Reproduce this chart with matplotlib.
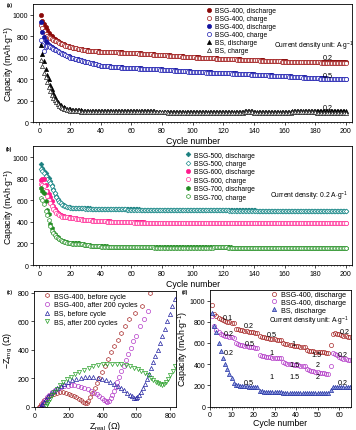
import numpy as np
import matplotlib
matplotlib.use("Agg")
import matplotlib.pyplot as plt
from matplotlib.ticker import MultipleLocator

plt.rcParams['font.family'] = ['Liberation Sans', 'DejaVu Sans']
plt.rcParams['mathtext.fontset'] = 'custom'
plt.rcParams['mathtext.rm'] = 'Liberation Sans'
plt.rcParams['mathtext.it'] = 'Liberation Sans:italic'
plt.rcParams['axes.linewidth'] = 0.6

# ---------------- (a) cycling, BSG-400 vs BS ----------------
a_bsg400_02_dis = [
    1000, 945, 916, 884, 860, 835, 815, 800, 787, 776, 766, 757, 748, 740, 732, 725, 718, 712, 707, 703,
    699, 696, 692, 689, 686, 683, 681, 678, 675, 672, 670, 669, 667, 666, 664, 663, 662, 661, 660, 659,
    659, 658, 657, 657, 656, 655, 655, 654, 653, 652, 652, 651, 651, 650, 649, 649, 648, 648, 647, 647,
    646, 645, 644, 643, 642, 641, 640, 639, 638, 637, 636, 635, 634, 633, 632, 631, 630, 629, 628, 627,
    626, 625, 624, 623, 622, 621, 620, 619, 618, 617, 616, 615, 614, 613, 612, 611, 610, 609, 608, 607,
    606, 605, 605, 604, 603, 602, 602, 601, 600, 599, 599, 598, 597, 597, 596, 595, 594, 594, 593, 592,
    592, 591, 590, 590, 589, 588, 588, 587, 586, 586, 585, 584, 584, 583, 582, 582, 581, 581, 580, 580,
    579, 578, 578, 577, 576, 576, 575, 574, 574, 573, 572, 572, 571, 570, 570, 569, 569, 568, 568, 567,
    567, 566, 566, 565, 565, 564, 564, 563, 563, 562, 562, 562, 561, 561, 561, 560, 560, 560, 560, 559,
    559, 559, 559, 558, 558, 558, 558, 558, 557, 557, 557, 557, 557, 557, 557, 557, 557, 557, 557, 558]
a_bsg400_02_chg = [
    906, 880, 845, 822, 805, 792, 782, 774, 766, 760, 752, 745, 738, 731, 725, 719, 713, 708, 704, 700,
    697, 694, 690, 687, 684, 681, 679, 676, 673, 670, 668, 667, 665, 664, 662, 661, 660, 659, 658, 657,
    657, 656, 655, 655, 654, 653, 653, 652, 651, 650, 650, 649, 649, 648, 647, 647, 646, 646, 645, 645,
    644, 643, 642, 641, 640, 639, 638, 637, 636, 635, 634, 633, 632, 631, 630, 629, 628, 627, 626, 625,
    624, 623, 622, 621, 620, 619, 618, 617, 616, 615, 614, 613, 612, 611, 610, 609, 608, 607, 606, 605,
    604, 603, 603, 602, 601, 600, 600, 599, 598, 597, 597, 596, 595, 595, 594, 593, 592, 592, 591, 590,
    590, 589, 588, 588, 587, 586, 586, 585, 584, 584, 583, 582, 582, 581, 580, 580, 579, 579, 578, 578,
    577, 576, 576, 575, 574, 574, 573, 572, 572, 571, 570, 570, 569, 568, 568, 567, 567, 566, 566, 565,
    565, 564, 564, 563, 563, 562, 562, 561, 561, 560, 560, 560, 559, 559, 559, 558, 558, 558, 558, 557,
    557, 557, 557, 556, 556, 556, 556, 556, 555, 555, 555, 555, 555, 555, 555, 555, 555, 555, 555, 556]
a_bsg400_05_dis = [
    935, 840, 795, 760, 735, 722, 712, 702, 692, 682, 673, 665, 657, 649, 641, 634, 627, 620, 613, 606,
    602, 598, 594, 590, 586, 582, 578, 574, 570, 566, 563, 559, 555, 552, 548, 545, 541, 537, 533, 529,
    527, 525, 524, 523, 522, 521, 519, 518, 517, 516, 515, 514, 512, 511, 510, 510, 509, 508, 507, 507,
    506, 505, 504, 504, 503, 502, 501, 501, 500, 499, 499, 498, 497, 497, 496, 495, 494, 494, 493, 492,
    491, 490, 489, 488, 487, 486, 485, 484, 483, 482, 481, 480, 479, 478, 477, 476, 475, 474, 473, 472,
    471, 471, 470, 469, 469, 468, 468, 467, 466, 466, 465, 465, 464, 464, 463, 463, 462, 462, 461, 461,
    460, 459, 458, 458, 457, 456, 455, 455, 454, 453, 452, 452, 451, 450, 449, 449, 448, 447, 447, 446,
    445, 444, 444, 443, 442, 441, 441, 440, 439, 438, 438, 437, 436, 435, 435, 434, 433, 433, 432, 431,
    430, 429, 428, 427, 426, 425, 424, 423, 422, 421, 420, 419, 418, 417, 416, 415, 414, 413, 412, 412,
    411, 411, 410, 410, 409, 409, 409, 408, 408, 408, 408, 407, 407, 407, 407, 407, 407, 407, 407, 408]
a_bsg400_05_chg = [
    765, 722, 660, 702, 712, 707, 700, 692, 684, 676, 669, 662, 654, 646, 638, 632, 624, 617, 610, 603,
    600, 596, 592, 588, 584, 580, 576, 572, 568, 564, 561, 557, 553, 550, 546, 543, 539, 535, 531, 527,
    525, 523, 522, 521, 520, 519, 517, 516, 515, 514, 513, 512, 510, 509, 508, 508, 507, 506, 505, 505,
    504, 503, 502, 502, 501, 500, 499, 499, 498, 497, 497, 496, 495, 495, 494, 493, 492, 492, 491, 490,
    489, 488, 487, 486, 485, 484, 483, 482, 481, 480, 479, 478, 477, 476, 475, 474, 473, 472, 471, 470,
    469, 469, 468, 467, 467, 466, 466, 465, 464, 464, 463, 463, 462, 462, 461, 461, 460, 460, 459, 459,
    458, 457, 456, 456, 455, 454, 453, 453, 452, 451, 450, 450, 449, 448, 447, 447, 446, 445, 445, 444,
    443, 442, 442, 441, 440, 439, 439, 438, 437, 436, 436, 435, 434, 433, 433, 432, 431, 431, 430, 429,
    428, 427, 426, 425, 424, 423, 422, 421, 420, 419, 418, 417, 416, 415, 414, 413, 412, 411, 410, 410,
    409, 409, 408, 408, 407, 407, 407, 406, 406, 406, 406, 405, 405, 405, 405, 405, 405, 405, 405, 406]
a_bs_dis = [
    720, 640, 570, 500, 440, 400, 352, 310, 272, 238, 212, 190, 172, 158, 148, 140, 134, 129, 125, 122,
    120, 118, 116, 115, 114, 113, 112, 111, 110, 110, 109, 109, 108, 108, 108, 107, 107, 107, 106, 106,
    106, 106, 105, 105, 105, 105, 105, 105, 104, 104, 104, 104, 104, 104, 104, 103, 103, 103, 103, 103,
    103, 103, 103, 103, 102, 102, 102, 102, 102, 102, 102, 102, 102, 102, 102, 101, 101, 101, 101, 101,
    101, 101, 101, 101, 101, 101, 101, 101, 101, 100, 100, 100, 100, 100, 99, 99, 99, 99, 99, 99,
    99, 99, 99, 99, 99, 99, 99, 99, 99, 99, 99, 99, 99, 99, 99, 99, 99, 99, 99, 99,
    99, 99, 99, 99, 99, 99, 99, 99, 99, 99, 99, 99, 101, 102, 102, 102, 102, 102, 102, 101,
    101, 101, 101, 101, 101, 101, 101, 101, 101, 101, 101, 101, 101, 101, 101, 101, 101, 101, 101, 101,
    101, 101, 101, 101, 103, 103, 103, 103, 103, 103, 103, 103, 103, 103, 103, 103, 103, 103, 103, 103,
    103, 103, 103, 102, 102, 102, 102, 102, 102, 102, 102, 102, 102, 102, 102, 102, 102, 102, 102, 102]
a_bs_chg = [
    580, 520, 462, 418, 378, 332, 292, 258, 230, 206, 186, 168, 154, 143, 135, 128, 122, 117, 114, 111,
    109, 107, 105, 104, 103, 102, 101, 100, 100, 99, 99, 98, 98, 98, 97, 97, 97, 97, 96, 96,
    96, 96, 96, 96, 95, 95, 95, 95, 95, 95, 95, 95, 95, 95, 95, 94, 94, 94, 94, 94,
    94, 94, 94, 94, 94, 94, 94, 94, 93, 93, 93, 93, 93, 93, 93, 93, 93, 93, 93, 93,
    93, 93, 93, 92, 92, 92, 92, 92, 92, 92, 92, 92, 92, 92, 91, 91, 91, 91, 91, 91,
    91, 91, 91, 91, 91, 91, 91, 91, 91, 91, 91, 91, 91, 91, 91, 91, 91, 91, 91, 91,
    91, 91, 91, 91, 91, 91, 91, 91, 91, 91, 91, 91, 92, 93, 93, 93, 93, 93, 93, 92,
    92, 92, 92, 92, 92, 92, 92, 92, 92, 92, 92, 92, 92, 92, 92, 92, 92, 92, 92, 92,
    92, 92, 92, 92, 93, 93, 93, 93, 93, 93, 93, 93, 93, 93, 93, 93, 93, 93, 93, 93,
    92, 92, 92, 91, 91, 91, 91, 91, 91, 91, 90, 90, 90, 90, 90, 90, 90, 90, 90, 90]

# ---------------- (b) cycling, BSG-500/600/700 at 0.2 A/g ----------------
b_bsg500_dis = [
    940, 900, 875, 850, 828, 805, 780, 745, 705, 672, 638, 610, 590, 575, 564, 555, 548, 542, 538, 535,
    533, 532, 531, 530, 529, 528, 528, 527, 527, 526, 526, 525, 525, 524, 524, 524, 523, 523, 523, 522,
    522, 522, 521, 521, 521, 520, 520, 520, 519, 519, 519, 519, 518, 518, 518, 518, 517, 517, 517, 517,
    517, 516, 516, 516, 516, 515, 515, 515, 515, 515, 514, 514, 514, 514, 514, 514, 513, 513, 513, 513,
    513, 513, 513, 512, 512, 512, 512, 512, 512, 512, 512, 511, 511, 511, 511, 511, 511, 511, 511, 510,
    510, 510, 510, 510, 510, 510, 509, 509, 509, 509, 509, 509, 509, 509, 508, 508, 508, 508, 508, 508,
    508, 508, 508, 507, 507, 507, 507, 507, 507, 507, 507, 507, 506, 506, 506, 506, 506, 506, 506, 506,
    506, 505, 505, 505, 505, 505, 505, 505, 505, 505, 504, 504, 504, 504, 504, 504, 504, 504, 504, 504,
    503, 503, 503, 503, 503, 503, 503, 503, 503, 503, 503, 502, 502, 502, 502, 502, 502, 502, 502, 502,
    502, 502, 502, 502, 502, 502, 502, 501, 501, 501, 501, 501, 501, 501, 501, 501, 501, 501, 501, 501]
b_bsg500_chg = [
    893, 872, 852, 826, 800, 780, 758, 730, 700, 665, 632, 604, 586, 572, 561, 552, 545, 540, 536, 533,
    531, 530, 529, 528, 527, 526, 526, 525, 525, 524, 524, 523, 523, 522, 522, 522, 521, 521, 521, 520,
    520, 520, 519, 519, 519, 518, 518, 518, 517, 517, 517, 517, 516, 516, 516, 516, 515, 515, 515, 515,
    515, 514, 514, 514, 514, 513, 513, 513, 513, 513, 512, 512, 512, 512, 512, 512, 511, 511, 511, 511,
    511, 511, 511, 510, 510, 510, 510, 510, 510, 510, 510, 509, 509, 509, 509, 509, 509, 509, 509, 508,
    508, 508, 508, 508, 508, 508, 507, 507, 507, 507, 507, 507, 507, 507, 506, 506, 506, 506, 506, 506,
    506, 506, 506, 505, 505, 505, 505, 505, 505, 505, 505, 505, 504, 504, 504, 504, 504, 504, 504, 504,
    504, 503, 503, 503, 503, 503, 503, 503, 503, 503, 502, 502, 502, 502, 502, 502, 502, 502, 502, 502,
    501, 501, 501, 501, 501, 501, 501, 501, 501, 501, 501, 500, 500, 500, 500, 500, 500, 500, 500, 500,
    500, 500, 500, 500, 500, 500, 500, 499, 499, 499, 499, 499, 499, 499, 499, 499, 499, 499, 499, 499]
b_bsg600_dis = [
    790, 795, 800, 745, 686, 655, 633, 590, 549, 520, 498, 483, 472, 463, 456, 451, 448, 445, 443, 441,
    438, 436, 434, 432, 430, 428, 426, 424, 422, 421, 419, 418, 416, 415, 414, 413, 412, 411, 410, 409,
    408, 407, 406, 405, 404, 404, 403, 403, 402, 402, 401, 401, 400, 400, 399, 399, 398, 398, 397, 397,
    397, 396, 396, 396, 395, 395, 395, 395, 394, 394, 394, 394, 394, 393, 393, 393, 393, 393, 393, 393,
    392, 392, 392, 392, 392, 392, 392, 392, 392, 392, 392, 392, 392, 391, 391, 391, 391, 391, 391, 391,
    391, 391, 391, 391, 391, 392, 392, 392, 392, 392, 392, 392, 392, 392, 392, 392, 392, 392, 392, 392,
    392, 392, 392, 392, 392, 392, 392, 392, 392, 392, 392, 392, 392, 392, 392, 392, 392, 392, 392, 392,
    392, 392, 392, 392, 392, 392, 392, 392, 392, 392, 392, 392, 392, 392, 392, 392, 392, 392, 392, 392,
    392, 392, 392, 392, 392, 392, 392, 392, 392, 392, 392, 392, 392, 392, 392, 392, 392, 392, 392, 392,
    392, 392, 392, 392, 392, 392, 392, 392, 392, 392, 392, 392, 392, 392, 392, 392, 392, 392, 392, 392]
b_bsg600_chg = [
    750, 745, 730, 690, 640, 605, 575, 545, 520, 498, 482, 470, 462, 456, 450, 447, 444, 442, 440, 438,
    436, 434, 432, 430, 428, 426, 424, 422, 420, 419, 417, 416, 414, 413, 412, 411, 410, 409, 408, 407,
    406, 405, 404, 403, 402, 402, 401, 401, 400, 400, 399, 399, 398, 398, 397, 397, 396, 396, 395, 395,
    395, 394, 394, 394, 393, 393, 393, 393, 392, 392, 392, 392, 392, 391, 391, 391, 391, 391, 391, 391,
    390, 390, 390, 390, 390, 390, 390, 390, 390, 390, 390, 390, 390, 389, 389, 389, 389, 389, 389, 389,
    389, 389, 389, 389, 389, 390, 390, 390, 390, 390, 390, 390, 390, 390, 390, 390, 390, 390, 390, 390,
    390, 390, 390, 390, 390, 390, 390, 390, 390, 390, 390, 390, 390, 390, 390, 390, 390, 390, 390, 390,
    390, 390, 390, 390, 390, 390, 390, 390, 390, 390, 390, 390, 390, 390, 390, 390, 390, 390, 390, 390,
    390, 390, 390, 390, 390, 390, 390, 390, 390, 390, 390, 390, 390, 390, 390, 390, 390, 390, 390, 390,
    390, 390, 390, 390, 390, 390, 390, 390, 390, 390, 390, 390, 390, 390, 390, 390, 390, 390, 390, 390]
b_bsg700_dis = [
    718, 690, 665, 590, 514, 475, 380, 340, 305, 285, 270, 256, 245, 235, 227, 220, 214, 209, 205, 203,
    202, 201, 201, 201, 201, 200, 198, 195, 192, 189, 187, 185, 183, 181, 179, 178, 177, 176, 175, 174,
    173, 173, 172, 172, 171, 171, 171, 170, 170, 170, 169, 169, 169, 169, 168, 168, 168, 168, 168, 168,
    167, 167, 167, 167, 167, 167, 166, 166, 166, 166, 166, 166, 166, 166, 165, 165, 165, 165, 165, 165,
    165, 165, 165, 164, 164, 164, 164, 164, 164, 164, 164, 164, 164, 164, 163, 163, 163, 163, 163, 163,
    163, 163, 163, 163, 163, 163, 164, 164, 164, 164, 165, 165, 165, 166, 166, 166, 167, 167, 168, 168,
    167, 166, 165, 164, 163, 162, 162, 161, 161, 161, 161, 161, 161, 161, 161, 161, 161, 161, 161, 161,
    161, 161, 161, 161, 161, 161, 161, 161, 161, 161, 161, 161, 161, 160, 160, 160, 160, 160, 160, 160,
    160, 160, 160, 160, 161, 161, 162, 162, 162, 162, 162, 161, 161, 161, 161, 161, 161, 161, 160, 160,
    160, 160, 160, 160, 159, 159, 159, 159, 159, 159, 159, 159, 159, 158, 158, 158, 158, 158, 158, 158]
b_bsg700_chg = [
    620, 600, 570, 500, 460, 420, 362, 320, 295, 275, 262, 250, 240, 230, 222, 215, 210, 205, 202, 200,
    199, 198, 198, 198, 198, 197, 195, 192, 189, 186, 184, 182, 180, 178, 176, 175, 174, 173, 172, 171,
    170, 170, 169, 169, 168, 168, 168, 167, 167, 167, 166, 166, 166, 166, 165, 165, 165, 165, 165, 165,
    164, 164, 164, 164, 164, 164, 163, 163, 163, 163, 163, 163, 163, 163, 162, 162, 162, 162, 162, 162,
    162, 162, 162, 161, 161, 161, 161, 161, 161, 161, 161, 161, 161, 161, 160, 160, 160, 160, 160, 160,
    160, 160, 160, 160, 160, 160, 161, 161, 161, 161, 162, 162, 162, 163, 163, 163, 164, 164, 165, 165,
    164, 163, 162, 161, 160, 159, 159, 158, 158, 158, 158, 158, 158, 158, 158, 158, 158, 158, 158, 158,
    158, 158, 158, 158, 158, 158, 158, 158, 158, 158, 158, 158, 158, 157, 157, 157, 157, 157, 157, 157,
    157, 157, 157, 157, 158, 158, 159, 159, 159, 159, 159, 158, 158, 158, 158, 158, 158, 158, 157, 157,
    157, 157, 157, 157, 156, 156, 156, 156, 156, 156, 156, 156, 156, 155, 155, 155, 155, 155, 155, 155]

# ---------------- (c) Nyquist plots ----------------
c_bsg400_before_x = [22, 28, 35, 44, 55, 68, 82, 97, 113, 130, 147, 164, 181, 198, 214, 230, 245, 259, 272, 284,
                     295, 305, 315, 327, 340, 352, 365, 380, 395, 412, 430, 450, 470, 490, 510, 532, 555, 590, 632, 682]
c_bsg400_before_y = [2, 10, 22, 36, 50, 64, 76, 86, 94, 99, 102, 102, 99, 94, 87, 78, 68, 57, 46, 37,
                     31, 30, 45, 68, 100, 130, 165, 205, 245, 290, 335, 385, 430, 470, 520, 570, 620, 660, 711, 800]
c_bsg400_after_x = [32, 38, 46, 56, 68, 82, 98, 115, 133, 152, 172, 192, 212, 232, 252, 272, 292, 311, 330, 348,
                    365, 381, 395, 408, 419, 429, 438, 447, 456, 466, 477, 488, 500, 512, 525, 538, 552, 566, 582, 600,
                    620, 645, 672]
c_bsg400_after_y = [3, 15, 32, 50, 68, 86, 102, 116, 128, 138, 145, 150, 152, 151, 148, 142, 134, 124, 113, 101,
                    88, 75, 62, 50, 42, 38, 45, 62, 85, 112, 142, 175, 212, 250, 290, 330, 372, 415, 460, 500,
                    565, 615, 672]
c_bs_before_x = [33, 40, 50, 62, 76, 92, 110, 130, 151, 173, 196, 220, 245, 270, 295, 320, 345, 370, 395, 420,
                 445, 468, 490, 510, 528, 545, 560, 573, 585, 596, 606, 616, 627, 638, 650, 662, 674, 687, 700, 713,
                 726, 740, 754, 768, 783, 798, 813, 828]
c_bs_before_y = [4, 18, 36, 55, 75, 95, 114, 132, 148, 162, 175, 187, 196, 203, 207, 209, 208, 205, 199, 190,
                 178, 164, 149, 133, 117, 101, 87, 75, 66, 62, 68, 84, 105, 130, 160, 195, 232, 272, 312, 355,
                 400, 448, 497, 548, 600, 652, 705, 760]
c_bs_after_x = [62, 68, 76, 86, 98, 112, 128, 146, 166, 188, 212, 237, 263, 290, 317, 345, 373, 401, 429, 457,
                485, 512, 538, 563, 587, 609, 630, 650, 668, 685, 700, 714, 727, 739, 751, 763, 776, 789, 802, 815, 828]
c_bs_after_y = [5, 19, 38, 58, 82, 105, 128, 151, 172, 193, 212, 230, 247, 262, 275, 285, 293, 299, 303, 304,
                303, 300, 294, 286, 276, 264, 251, 237, 222, 206, 191, 177, 165, 158, 157, 162, 175, 195, 222, 255, 290]

# ---------------- (d) rate capability ----------------
d_bsg400_a = [955, 870, 850, 835, 825, 815, 805, 800, 795, 792, 790,
              735, 728, 722, 718, 714, 710, 706, 703, 700, 697, 694,
              665, 660, 655, 650, 646, 642, 638, 634, 630, 627, 624,
              595, 590, 586, 582, 578, 575, 572, 568, 565, 562, 560,
              530, 527, 524, 521, 518, 516, 514, 512, 510, 508, 507,
              580, 685, 690, 688, 682, 676, 670, 664, 658, 652]
d_bsg400_b = [850, 760, 720, 700, 685, 675, 668, 662, 657, 652, 648,
              600, 590, 583, 578, 574, 570, 566, 563, 560, 557, 554,
              485, 478, 474, 470, 467, 464, 462, 460, 458, 456, 454,
              420, 412, 406, 401, 397, 394, 391, 389, 387, 385, 383,
              350, 342, 336, 331, 327, 323, 319, 316, 313, 310, 307,
              385, 505, 500, 490, 470, 460, 452, 447, 443, 440]
d_bs = [880, 760, 700, 600, 520, 460, 400, 350, 305, 270, 225,
        205, 200, 197, 195, 192, 190, 188, 186, 184, 182, 180,
        145, 142, 141, 140, 140, 139, 139, 138, 138, 138, 137,
        132, 131, 131, 130, 130, 130, 129, 129, 129, 129, 128,
        126, 126, 125, 125, 125, 125, 124, 124, 124, 124, 124,
        160, 180, 182, 183, 183, 182, 182, 181, 181, 180]
d_rates_a = [(8.5, 842, '0.1'), (17.8, 763, '0.2'), (28.6, 684, '0.5'), (38.6, 595, '1'), (49.5, 494, '1.5'), (62.6, 705, '0.2')]
d_rates_b = [(8.5, 690, '0.2'), (18.5, 595, '0.5'), (28.6, 509, '1'), (39.1, 399, '1.5'), (49.9, 399, '2'), (61.8, 494, '0.2')]
d_rates_bs = [(8.5, 509, '0.2'), (17.8, 231, '0.5'), (28.6, 288, '1'), (39.1, 288, '1.5'), (49.9, 288, '2'), (61.8, 231, '0.2')]

cap_label = r'Capacity (mAh$\cdot$g$^{-1}$)'
TICK = 5
LAB = 6.3
LEG = 4.9
MS = 3.0
EW = 0.5


def cyc(v):
    return np.arange(1, len(v) + 1)


def style(ax):
    ax.tick_params(direction='out', length=2, width=0.5, labelsize=TICK, pad=1.5)
    ax.tick_params(which='minor', direction='out', length=1, width=0.4)
    for s in ax.spines.values():
        s.set_linewidth(0.6)


fig = plt.figure(figsize=(3.56, 4.31), dpi=100)

# ---- (a)
ax = fig.add_axes([0.0935, 0.7135, 0.8953, 0.2749])
ax.plot(cyc(a_bsg400_02_dis), a_bsg400_02_dis, 'o', color='#8b0a0a', ms=MS, mew=EW, label='BSG-400, discharge')
ax.plot(cyc(a_bsg400_02_chg), a_bsg400_02_chg, 'o', mec='#a01818', mfc='white', ms=MS, mew=EW, label='BSG-400, charge')
ax.plot(cyc(a_bsg400_05_dis), a_bsg400_05_dis, 'o', color='#1414a0', ms=MS, mew=EW, label='BSG-400, discharge')
ax.plot(cyc(a_bsg400_05_chg), a_bsg400_05_chg, 'o', mec='#1c1cb0', mfc='white', ms=MS, mew=EW, label='BSG-400, charge')
ax.plot(cyc(a_bs_dis), a_bs_dis, '^', color='black', ms=MS, mew=EW, label='BS, discharge')
ax.plot(cyc(a_bs_chg), a_bs_chg, '^', mec='#222222', mfc='white', ms=MS, mew=EW, label='BS, charge')
ax.set_xlim(-4, 204)
ax.set_ylim(0, 1100)
ax.set_xticks(range(0, 201, 20))
ax.set_yticks(range(0, 1001, 200))
ax.xaxis.set_minor_locator(MultipleLocator(2))
style(ax)
ax.set_xlabel('Cycle number', fontsize=LAB)
ax.xaxis.set_label_coords(0.5, -0.115)
ax.set_ylabel(cap_label, fontsize=LAB)
ax.yaxis.set_label_coords(-0.054, 0.5)
ax.legend(loc='upper left', bbox_to_anchor=(0.541, 0.975), frameon=False, fontsize=LEG,
          handlelength=1.0, handletextpad=0.4, labelspacing=0.15, borderpad=0, borderaxespad=0)
ax.text(0.755, 0.655, r'Current density unit: A$\cdot$g$^{-1}$', transform=ax.transAxes, fontsize=LEG, va='center')
ax.text(188, 603, '0.2', fontsize=LEG + 0.3, ha='center', va='center')
ax.text(188, 434, '0.5', fontsize=LEG + 0.3, ha='center', va='center')
ax.text(188, 143, '0.2', fontsize=LEG + 0.3, ha='center', va='center')
fig.text(10 / 356, 1 - 6 / 431, '(a)', fontsize=3.5, fontweight='bold', ha='center', va='center')

# ---- (b)
ax = fig.add_axes([0.0935, 0.3828, 0.8953, 0.275])
ax.plot(cyc(b_bsg500_dis), b_bsg500_dis, 'D', color='#1a7f7f', ms=MS - 0.6, mew=EW, label='BSG-500, discharge')
ax.plot(cyc(b_bsg500_chg), b_bsg500_chg, 'D', mec='#1f8c8c', mfc='white', ms=MS - 0.6, mew=EW, label='BSG-500, charge')
ax.plot(cyc(b_bsg600_dis), b_bsg600_dis, 'o', color='#ff1a8c', ms=MS, mew=EW, label='BSG-600, discharge')
ax.plot(cyc(b_bsg600_chg), b_bsg600_chg, 'o', mec='#ff3399', mfc='white', ms=MS, mew=EW, label='BSG-600, charge')
ax.plot(cyc(b_bsg700_dis), b_bsg700_dis, 'h', color='#1f8a1f', ms=MS, mew=EW, label='BSG-700, discharge')
ax.plot(cyc(b_bsg700_chg), b_bsg700_chg, 'h', mec='#2e962e', mfc='white', ms=MS, mew=EW, label='BSG-700, charge')
ax.set_xlim(-4, 204)
ax.set_ylim(0, 1100)
ax.set_xticks(range(0, 201, 20))
ax.set_yticks(range(0, 1001, 200))
ax.xaxis.set_minor_locator(MultipleLocator(2))
style(ax)
ax.set_xlabel('Cycle number', fontsize=LAB)
ax.xaxis.set_label_coords(0.5, -0.115)
ax.set_ylabel(cap_label, fontsize=LAB)
ax.yaxis.set_label_coords(-0.054, 0.5)
ax.legend(loc='upper left', bbox_to_anchor=(0.475, 0.956), frameon=False, fontsize=LEG,
          handlelength=1.0, handletextpad=0.4, labelspacing=0.2, borderpad=0, borderaxespad=0)
ax.text(0.742, 0.59, r'Current density: 0.2 A$\cdot$g$^{-1}$', transform=ax.transAxes, fontsize=LEG, va='center')
fig.text(9 / 356, 1 - 149 / 431, '(b)', fontsize=3.5, fontweight='bold', ha='center', va='center')

# ---- (c)
ax = fig.add_axes([0.0963, 0.0534, 0.398, 0.268])
ax.plot(c_bsg400_before_x, c_bsg400_before_y, 'h', mec='#a82a2a', mfc='none', ms=MS, mew=EW, label='BSG-400, before cycle')
ax.plot(c_bsg400_after_x, c_bsg400_after_y, 'o', mec='#b43cc8', mfc='none', ms=MS, mew=EW, label='BSG-400, after 200 cycles')
ax.plot(c_bs_before_x, c_bs_before_y, '^', mec='#2020a0', mfc='none', ms=MS, mew=EW, label='BS, before cycle')
ax.plot(c_bs_after_x, c_bs_after_y, 'v', mec='#28a028', mfc='none', ms=MS, mew=EW, label='BS, after 200 cycles')
ax.set_xlim(-5, 835)
ax.set_ylim(0, 810)
ax.set_xticks(range(0, 801, 200))
ax.set_yticks(range(0, 801, 200))
style(ax)
ax.set_xlabel(r'Z$_{\rm real}$ ($\Omega$)', fontsize=LAB)
ax.xaxis.set_label_coords(0.5, -0.1)
ax.set_ylabel(r'$-$Z$_{\rm img}$ ($\Omega$)', fontsize=LAB)
ax.yaxis.set_label_coords(-0.135, 0.5)
ax.legend(loc='upper left', bbox_to_anchor=(0.066, 0.99), frameon=False, fontsize=5.1,
          handlelength=1.0, handletextpad=0.4, labelspacing=0.25, borderpad=0, borderaxespad=0)
fig.text(10 / 356, 1 - 293 / 431, '(c)', fontsize=3.5, fontweight='bold', ha='center', va='center')

# ---- (d)
ax = fig.add_axes([0.5899, 0.0545, 0.396, 0.2703])
ax.plot(cyc(d_bsg400_a), d_bsg400_a, 'o', mec='#a82a2a', mfc='none', ms=MS, mew=EW, label='BSG-400, discharge')
ax.plot(cyc(d_bsg400_b), d_bsg400_b, 'o', mec='#b43cc8', mfc='none', ms=MS, mew=EW, label='BSG-400, discharge')
ax.plot(cyc(d_bs), d_bs, '^', mec='#2030a0', mfc='#9aa4e6', ms=MS, mew=EW, label='BS, discharge')
for x, y, s in d_rates_a + d_rates_b + d_rates_bs:
    ax.text(x, y, s, fontsize=5.2, ha='center', va='center')
ax.set_xlim(0, 65.5)
ax.set_ylim(0, 1100)
ax.set_xticks(range(0, 61, 10))
ax.set_yticks(range(0, 1001, 200))
ax.xaxis.set_minor_locator(MultipleLocator(1))
style(ax)
ax.set_xlabel('Cycle number', fontsize=LAB)
ax.xaxis.set_label_coords(0.5, -0.1)
ax.set_ylabel(cap_label, fontsize=LAB)
ax.yaxis.set_label_coords(-0.142, 0.5)
ax.legend(loc='upper left', bbox_to_anchor=(0.43, 0.99), frameon=False, fontsize=5.2,
          handlelength=1.0, handletextpad=0.4, labelspacing=0.1, borderpad=0, borderaxespad=0)
ax.text(0.42, 0.738, r'Current density unit: A$\cdot$g$^{-1}$', transform=ax.transAxes, fontsize=LEG, va='center')
fig.text(185 / 356, 1 - 293 / 431, '(d)', fontsize=3.5, fontweight='bold', ha='center', va='center')

fig.savefig('out.png', dpi=100)
